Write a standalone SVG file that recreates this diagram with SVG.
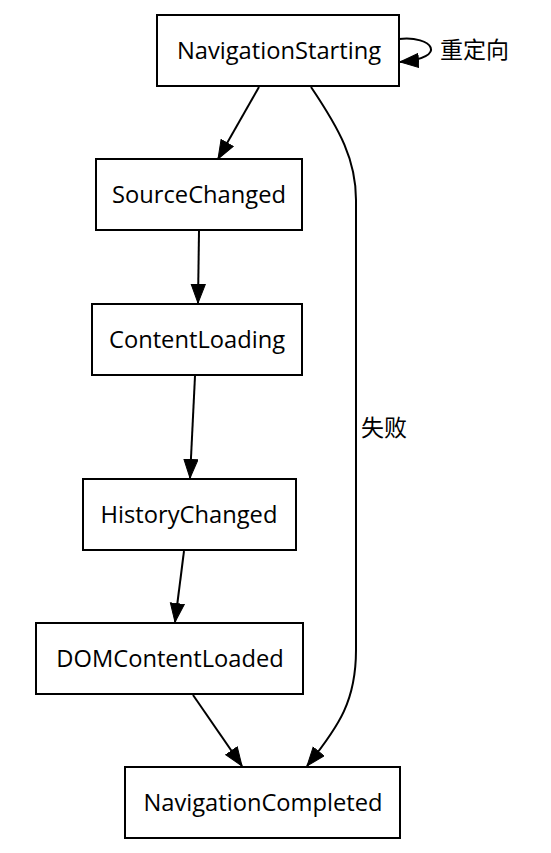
<svg xmlns="http://www.w3.org/2000/svg" width="551" height="853" viewBox="0 0 551 853">
<style>
.node rect{fill:#fff;stroke:#000;stroke-width:2}
.node text{font-family:"Open Sans","Noto Sans","Noto Sans CJK SC",sans-serif;font-size:23.7px;fill:#000;text-anchor:middle}
.edge path{fill:none;stroke:#000;stroke-width:2}
.lbl{font-family:"Noto Sans CJK SC","Noto Sans",sans-serif;font-size:23px;fill:#000}
</style>
<defs>
<marker id="arr" markerUnits="userSpaceOnUse" markerWidth="21" markerHeight="16" refX="19" refY="7.5" orient="auto">
<path d="M0.5,0.5 L19,7.5 L0.5,14.5 z" fill="#000" stroke="#000" stroke-width="1"/>
</marker>
</defs>
<rect width="551" height="853" fill="#fff"/>
<g id="connectors" class="edge">
<path d="M399,39 C432,35 450,58 400,62" marker-end="url(#arr)"/>
<path d="M259,87 L218,159" marker-end="url(#arr)"/>
<path d="M199,231 L198,303" marker-end="url(#arr)"/>
<path d="M195,376 L190,478" marker-end="url(#arr)"/>
<path d="M184,551 L175,622" marker-end="url(#arr)"/>
<path d="M193,695 L242,766" marker-end="url(#arr)"/>
<path d="M311,87 C340,130 356,160 356,200 L356,650 C356,700 340,725 307,766" marker-end="url(#arr)"/>
<text class="lbl" x="440" y="58">重定向</text>
<text class="lbl" x="361" y="436">失败</text>
</g>
<g id="NavigationStarting" class="node"><rect x="157" y="15" width="242" height="71"/><text x="279" y="59">NavigationStarting</text></g>
<g id="SourceChanged" class="node"><rect x="96" y="159" width="206" height="71"/><text x="199" y="203">SourceChanged</text></g>
<g id="ContentLoading" class="node"><rect x="92" y="304" width="210" height="71"/><text x="197" y="348">ContentLoading</text></g>
<g id="HistoryChanged" class="node"><rect x="83" y="479" width="213" height="71"/><text x="189" y="523">HistoryChanged</text></g>
<g id="DOMContentLoaded" class="node"><rect x="36" y="623" width="267" height="71"/><text x="170" y="667">DOMContentLoaded</text></g>
<g id="NavigationCompleted" class="node"><rect x="125" y="767" width="275" height="71"/><text x="263" y="811">NavigationCompleted</text></g>
</svg>
